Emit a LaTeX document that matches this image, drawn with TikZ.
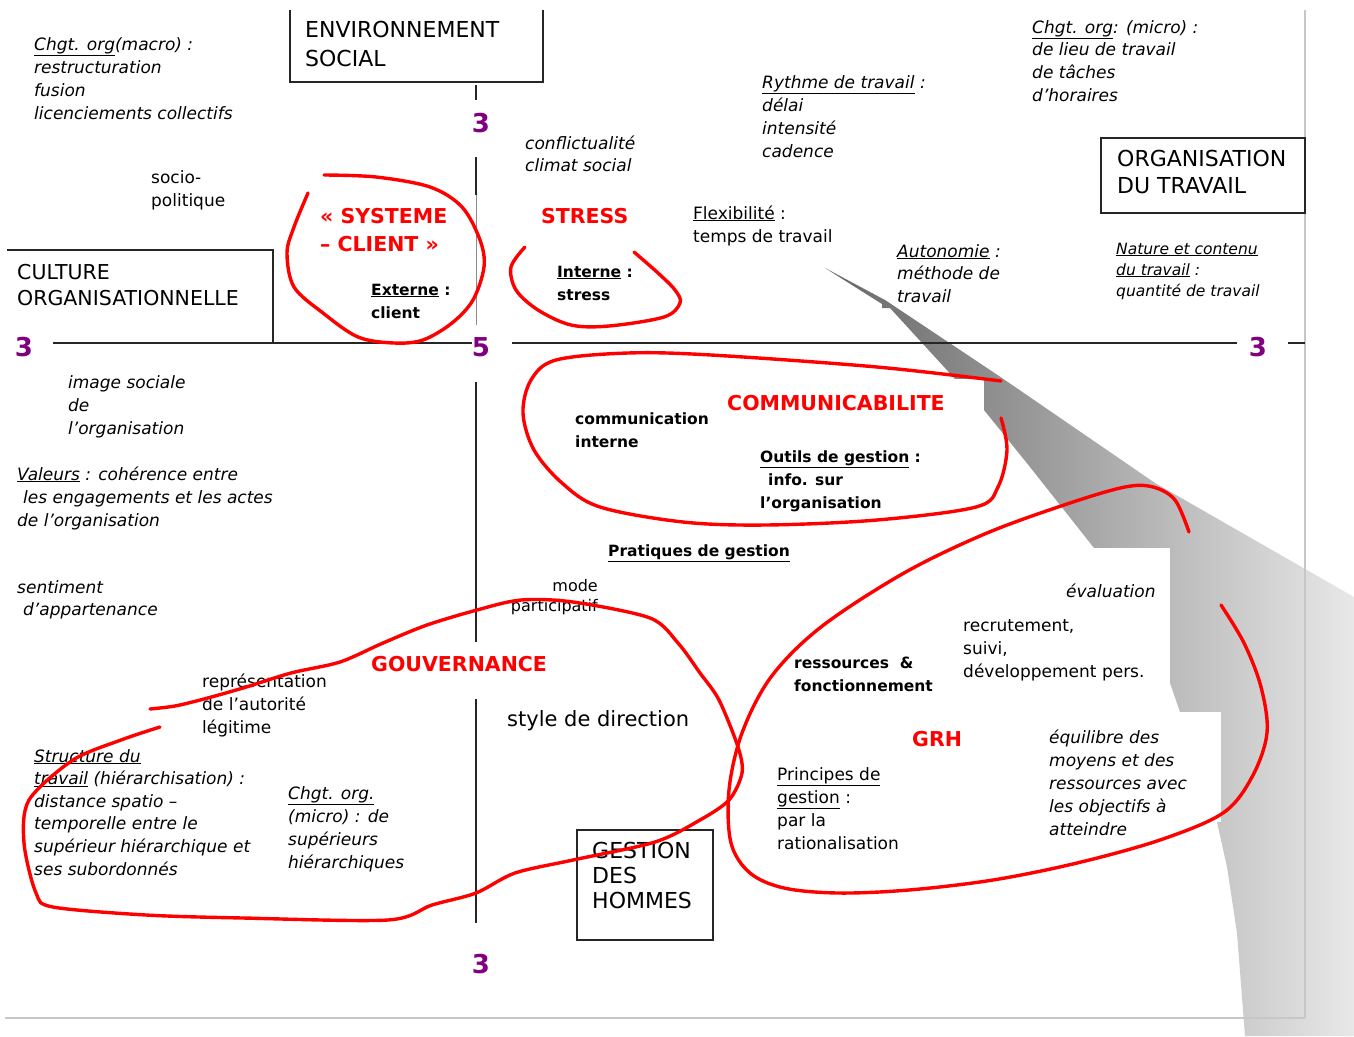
\documentclass[tikz,border=0pt]{standalone}
\usepackage{fontspec}
\setmainfont{DejaVu Sans}
\definecolor{numpurple}{RGB}{128,0,128}
\definecolor{rd}{RGB}{255,0,0}
\newcommand\ML[1]{\begin{tabular}[t]{@{}l@{}}#1\end{tabular}}
\newcommand\MR[1]{\begin{tabular}[t]{@{}r@{}}#1\end{tabular}}
\begin{document}
\begin{tikzpicture}[x=1pt,y=-1pt,
  txt/.style={anchor=base west, inner sep=0pt, font=\fontsize{17}{23}\selectfont},
  txti/.style={txt, font=\fontsize{17}{23}\selectfont\itshape},
  txtb/.style={txt, font=\fontsize{15.5}{23}\selectfont\bfseries},
  txtr/.style={txt, text=rd, font=\fontsize{20.5}{28}\selectfont\bfseries},
  txtbox/.style={txt, font=\fontsize{22}{28}\selectfont},
  num/.style={text=numpurple, font=\fontsize{26}{26}\selectfont\bfseries, inner sep=0pt},
  ax/.style={line width=1.3pt, black!85},
  frm/.style={line width=1.2pt, black!85},
  rl/.style={rd, line width=3.4pt, line cap=round, line join=round},
  pg/.style={black!22, line width=1.2pt},
]
\useasboundingbox[fill=white] (0,0) rectangle (1354,1036);

% shadow wedge
\shade[left color=black!60, right color=black!9]
  (825,268) -- (885,300) -- (1002,378) -- (1155,483) -- (1354,597) -- (1354,1036)
  -- (1245,1036) -- (1237,933) -- (1227,867) -- (1217,822) -- (1205,770)
  -- (1180,712) -- (1170,683) -- (1130,610) -- (1094,548) -- (1060,505)
  -- (1030,467) -- (984,410) -- (956,380) -- (890,308) -- (882,308) -- (882,304) -- cycle;
\fill[white] (930,379) rectangle (984,410);
\fill[white] (1040,548) rectangle (1170,683);
\fill[white] (1100,712) rectangle (1221,822);

% page edges
\draw[pg] (1305,10) -- (1305,1018);
\draw[pg] (5,1018) -- (1305,1018);

% axes
\draw[ax] (476,85) -- (476,100);
\draw[ax] (476,157) -- (476,195);
\draw[line width=0.9pt, black!45] (476,195) -- (476,325);
\draw[ax] (476,382) -- (476,642);
\draw[ax] (476,699) -- (476,923);
\draw[ax] (53,343) -- (472,343);
\draw[ax] (512,343) -- (1237,343);
\draw[ax] (1288,343) -- (1305,343);

% boxes
\draw[frm] (290,10) -- (290,82) -- (543,82) -- (543,10);
\draw[frm] (1101,138) rectangle (1305,213);
\draw[frm] (7,250) -- (273,250) -- (273,343);
\draw[frm] (577,830) rectangle (713,940);

\node[txtbox, font=\fontsize{22}{29}\selectfont] (env) at (305,37) {\ML{ENVIRONNEMENT\\SOCIAL}};
\node[txtbox, font=\fontsize{22}{27}\selectfont] (orgt) at (1117,166) {\ML{ORGANISATION\\DU TRAVAIL}};
\node[txtbox, font=\fontsize{20.5}{26}\selectfont] (cult) at (17,279) {\ML{CULTURE\\ORGANISATIONNELLE}};
\node[txtbox, font=\fontsize{22}{25}\selectfont] (gdh) at (592,858) {\ML{GESTION\\DES\\HOMMES}};

% numbers
\node[num] (ntop) at (481,123) {3};
\node[num] (nleft) at (24,347) {3};
\node[num] (ncen) at (481,347) {5};
\node[num] (nright) at (1258,347) {3};
\node[num] (nbot) at (481,964) {3};

% texts
\node[txti] (cmacro) at (34,50) {\ML{\underline{Chgt. org}(macro) :\\restructuration\\fusion\\licenciements collectifs}};
\node[txt] (socio) at (151,183) {\ML{socio-\\politique}};
\node[txtr] (sys) at (320,223) {\ML{« SYSTEME\\– CLIENT »}};
\node[txtb] (ext) at (371,295) {\ML{\underline{Externe} :\\client}};
\node[txti, font=\fontsize{17}{22}\selectfont\itshape] (confl) at (525,149) {\ML{conflictualité\\climat social}};
\node[txtr] (stress) at (541,223) {STRESS};
\node[txtb] (int) at (557,277) {\ML{\underline{Interne} :\\stress}};
\node[txt] (flex) at (693,219) {\ML{\underline{Flexibilité} :\\temps de travail}};
\node[txti] (rythme) at (762,88) {\ML{\underline{Rythme de travail} :\\délai\\intensité\\cadence}};
\node[txti, font=\fontsize{17}{22.7}\selectfont\itshape] (cmicro) at (1032,33) {\ML{\underline{Chgt. org}: (micro) :\\de lieu de travail\\de tâches\\d’horaires}};
\node[txti, font=\fontsize{17}{22.5}\selectfont\itshape] (auto) at (897,257) {\ML{\underline{Autonomie} :\\méthode de\\travail}};
\node[txti, font=\fontsize{15.5}{21}\selectfont\itshape] (nat) at (1116,254) {\ML{\underline{Nature et contenu}\\\underline{du travail} :\\quantité de travail}};
\node[txti] (imsoc) at (68,388) {\ML{image sociale\\de\\l’organisation}};
\node[txti] (val) at (17,480) {\ML{\underline{Valeurs} : cohérence entre\\\hspace*{6pt}les engagements et les actes\\de l’organisation}};
\node[txti, font=\fontsize{17}{22}\selectfont\itshape] (sent) at (17,593) {\ML{sentiment\\\hspace*{6pt}d’appartenance}};
\node[txtb] (comint) at (575,424) {\ML{communication\\interne}};
\node[txtr] (commu) at (727,410) {COMMUNICABILITE};
\node[txtb] (outils) at (760,462) {\ML{\underline{Outils de gestion} :\\\hspace*{8pt}info. sur\\l’organisation}};
\node[txtb] (prat) at (608,556) {\underline{Pratiques de gestion}};
\node[anchor=base east, inner sep=0pt, font=\fontsize{16}{20}\selectfont] (mode) at (598,591) {\MR{mode\\participatif}};
\node[txtr] (gouv) at (371,671) {GOUVERNANCE};
\node[txt] (repr) at (202,687) {\ML{représentation\\de l’autorité\\légitime}};
\node[txt, font=\fontsize{21}{23}\selectfont] (style) at (507,726) {style de direction};
\node[txti, font=\fontsize{17}{22.6}\selectfont\itshape] (struct) at (34,762) {\ML{\underline{Structure du}\\\underline{travail} (hiérarchisation) :\\distance spatio –\\temporelle entre le\\supérieur hiérarchique et\\ses subordonnés}};
\node[txti] (cmicro2) at (288,799) {\ML{\underline{Chgt. org.}\\(micro) : de\\supérieurs\\hiérarchiques}};
\node[txti] (eval) at (1066,597) {évaluation};
\node[txt] (recr) at (963,631) {\ML{recrutement,\\suivi,\\développement pers.}};
\node[txtb] (ress) at (794,668) {\ML{ressources\ \ \&\\fonctionnement}};
\node[txtr] (grh) at (912,746) {GRH};
\node[txt] (princ) at (777,780) {\ML{\underline{Principes de}\\\underline{gestion} :\\par la\\rationalisation}};
\node[txti] (equil) at (1049,743) {\ML{équilibre des\\moyens et des\\ressources avec\\les objectifs à\\atteindre}};

% red hand-drawn loops
\draw[rl] plot[smooth, tension=0.55] coordinates {(324,175) (376,177) (430,187) (462,207) (480,240) (484,267) (473,300) (452,323) (423,340) (394,343) (358,337) (323,313) (294,287) (287,253) (294,227) (308,193)};
\draw[rl] plot[smooth, tension=0.55] coordinates {(525,247) (511,267) (516,290) (538,310) (571,325) (609,326) (664,317) (680,303) (675,290) (658,273) (634,252)};
\draw[rl] plot[smooth, tension=0.55] coordinates {(1001,381) (877,367) (711,355) (628,353) (556,360) (531,380) (523,413) (534,450) (562,483) (600,507) (683,522) (766,525) (877,520) (976,507) (998,487) (1007,450) (1001,418)};
\draw[rl] plot[smooth, tension=0.55] coordinates {(1189,532) (1175,500) (1153,487) (1125,487) (1070,503) (987,533) (904,573) (821,627) (771,677) (742,733) (729,790) (731,843) (750,873) (784,888) (838,893) (909,890) (993,880) (1077,863) (1160,840) (1223,813) (1252,777) (1267,733) (1261,687) (1244,643) (1221,605)};
\draw[rl] plot[smooth, tension=0.5] coordinates {(150,709) (175,706) (204,699) (243,688) (291,673) (340,662) (383,643) (427,625) (477,610) (521,600) (573,602) (650,618) (678,643) (700,673) (719,700) (738,747) (742,773) (729,800) (700,820) (655,842) (573,860) (515,873) (476,893) (432,905) (388,920) (243,918) (146,915) (53,907) (36,893) (24,843) (29,800) (73,760) (121,740) (160,727)};
\end{tikzpicture}
\end{document}
